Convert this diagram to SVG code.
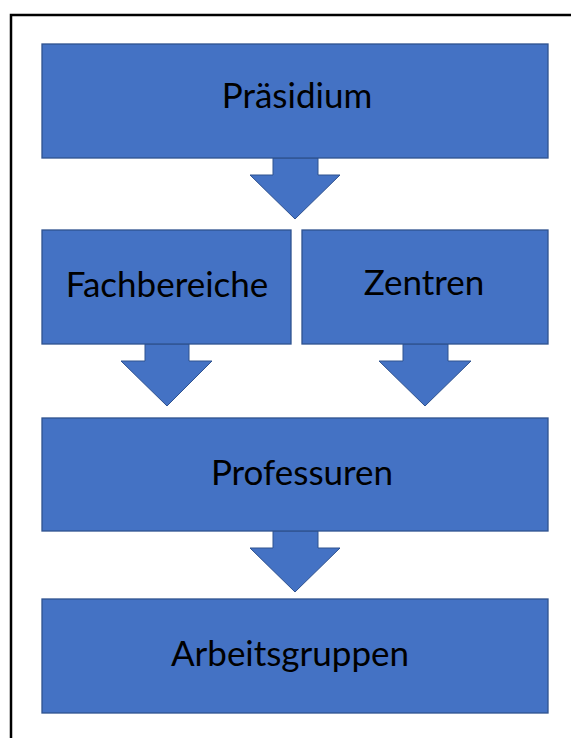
<svg xmlns="http://www.w3.org/2000/svg" width="571" height="738" viewBox="0 0 571 738">
<style>
.box{fill:#4472C4;stroke:#2F528F;stroke-width:1.3}
.arr{fill:#4472C4;stroke:#2F528F;stroke-width:1}
.lbl{font-family:"Lato","Open Sans","Liberation Sans",sans-serif;font-size:35px;fill:#000;text-anchor:middle}
</style>
<rect width="571" height="738" fill="#fff"/>
<path d="M11 738 V15 H571" fill="none" stroke="#000" stroke-width="2.5"/>
<g id="connectors">
<polygon class="arr" points="273,158 318,158 318,175 340,175 295,219 250,175 273,175"/>
<polygon class="arr" points="145,344 189,344 189,361 212,361 167,406 121,361 145,361"/>
<polygon class="arr" points="403,344 448,344 448,361 471,361 425,406 379,361 403,361"/>
<polygon class="arr" points="273,531 318,531 318,548 340,548 295,592 250,548 273,548"/>
</g>
<g id="praesidium"><rect class="box" x="42" y="44" width="506" height="114"/><text class="lbl" x="297" y="108">Präsidium</text></g>
<g id="fachbereiche"><rect class="box" x="42" y="230" width="249" height="114"/><text class="lbl" x="167" y="297">Fachbereiche</text></g>
<g id="zentren"><rect class="box" x="302" y="230" width="246" height="114"/><text class="lbl" x="424" y="295">Zentren</text></g>
<g id="professuren"><rect class="box" x="42" y="418" width="506" height="113"/><text class="lbl" x="302" y="485">Professuren</text></g>
<g id="arbeitsgruppen"><rect class="box" x="42" y="599" width="506" height="114"/><text class="lbl" x="290" y="666">Arbeitsgruppen</text></g>
</svg>
